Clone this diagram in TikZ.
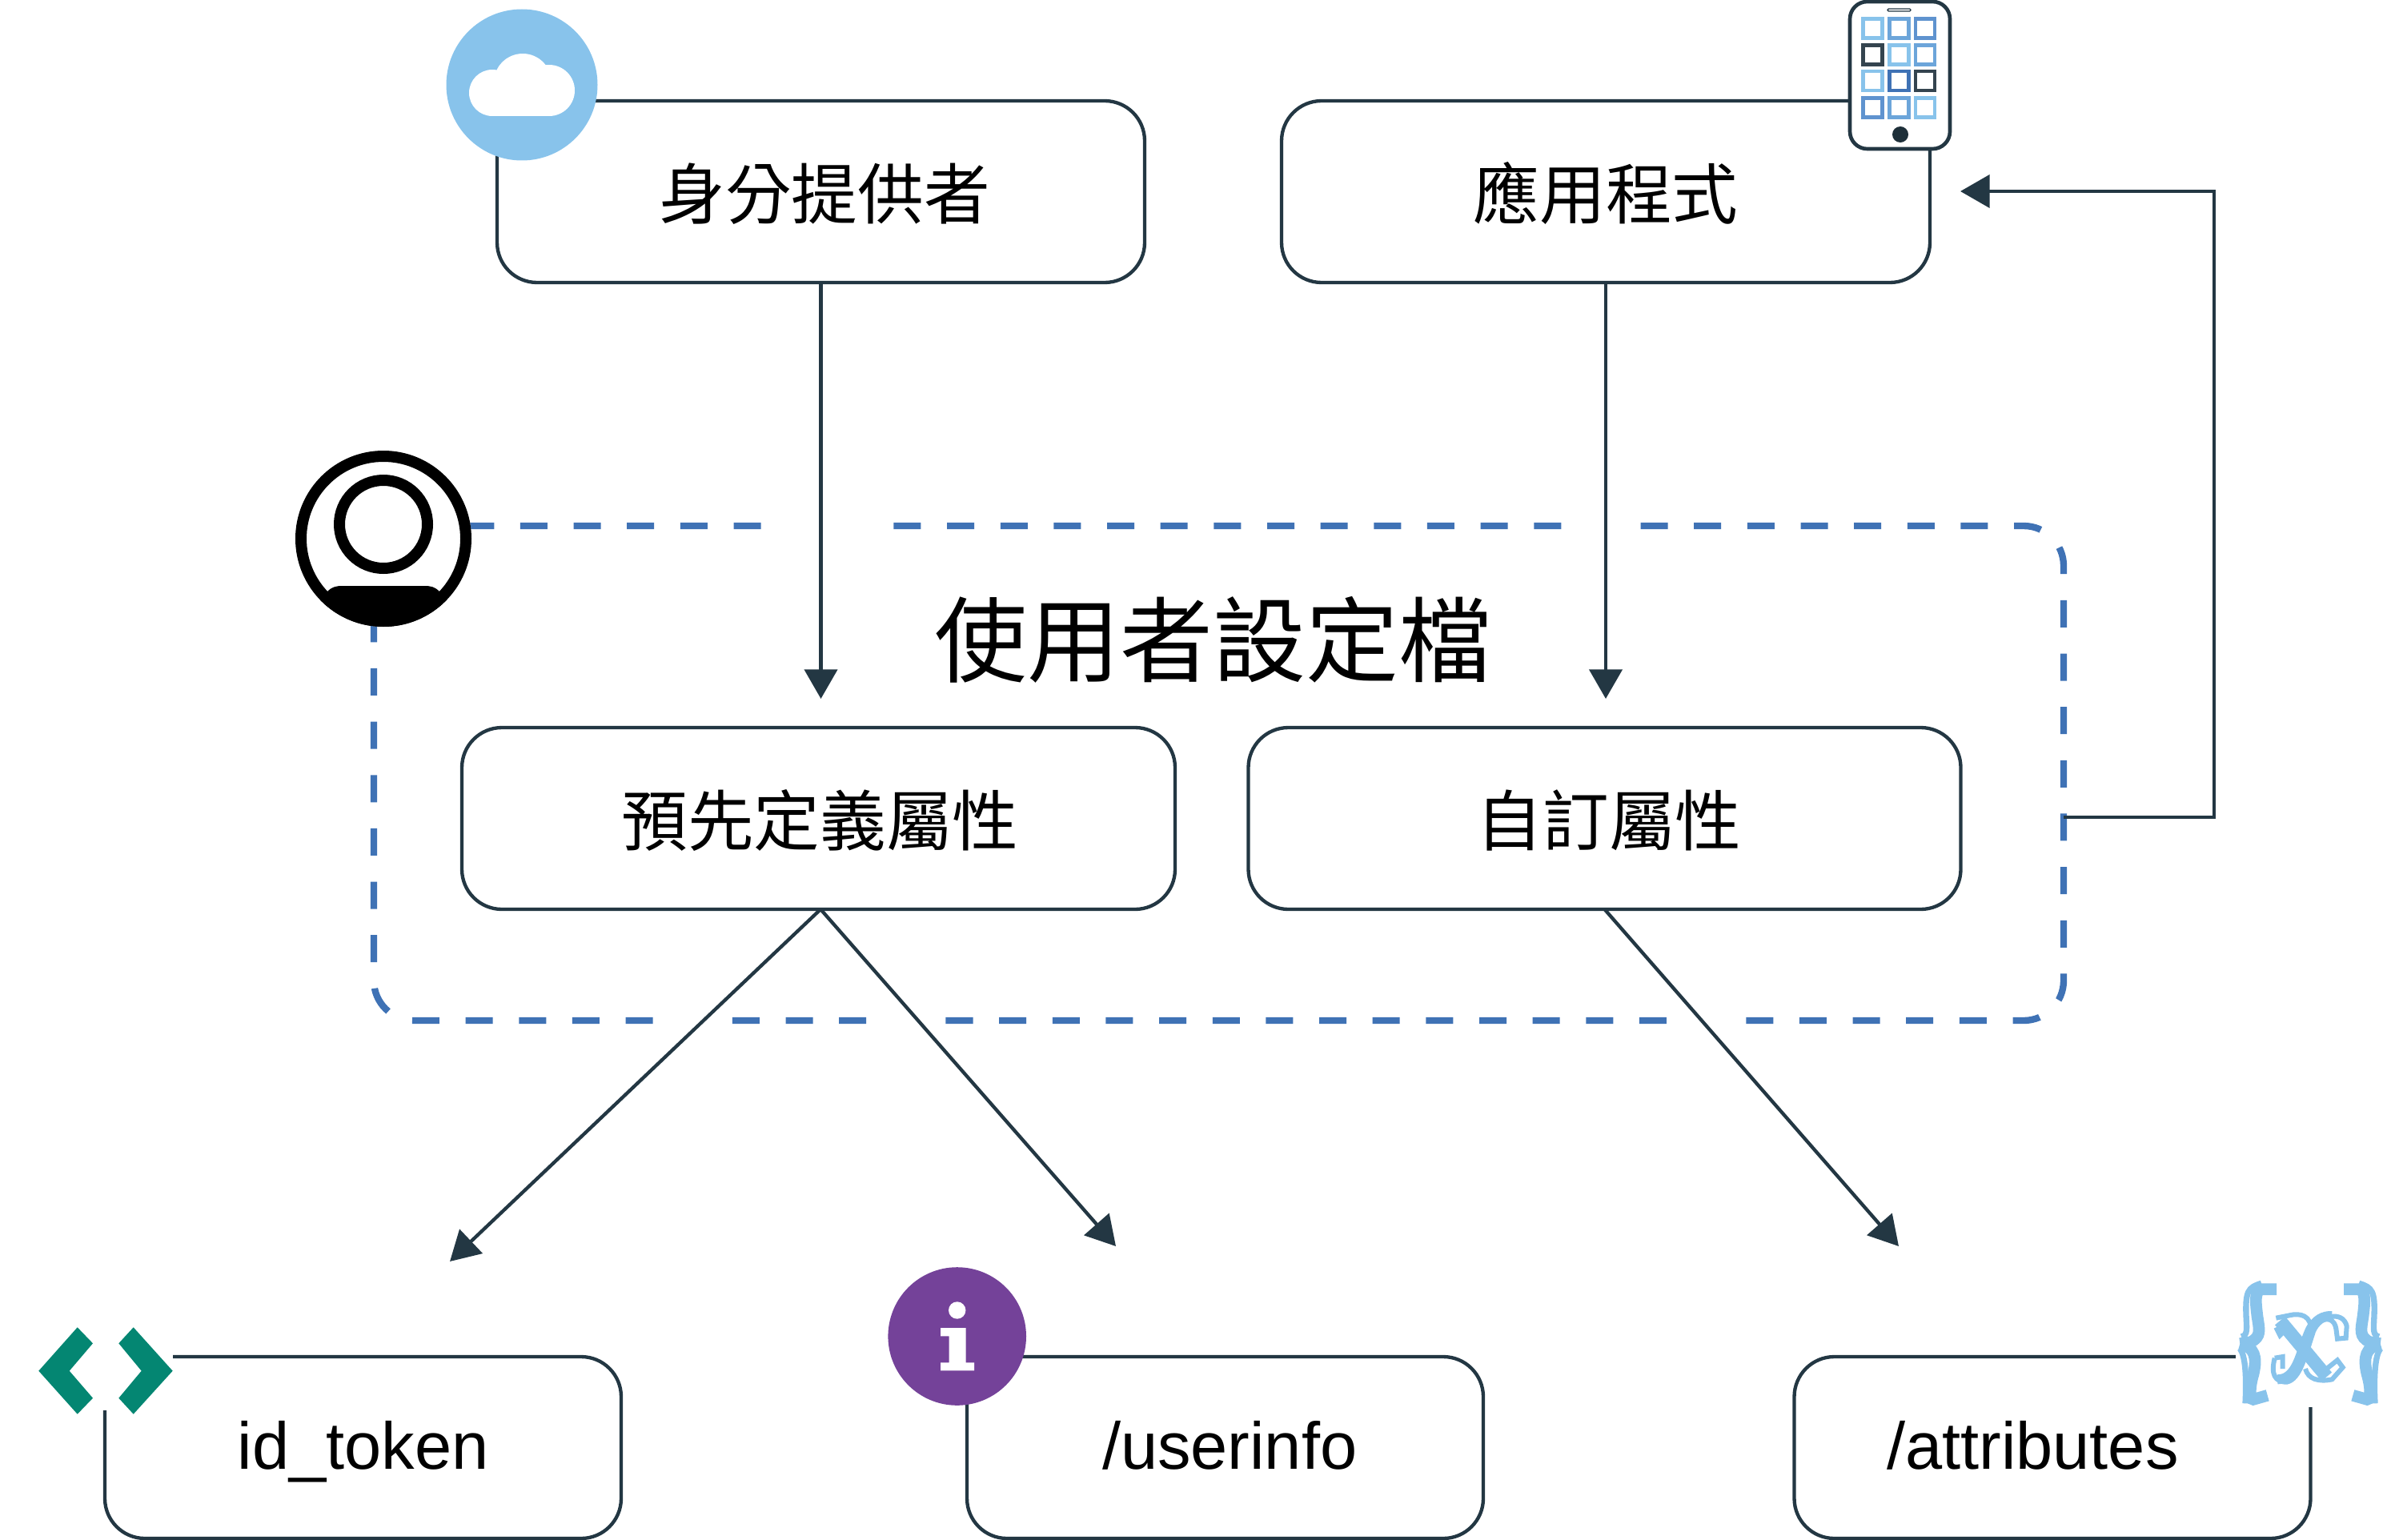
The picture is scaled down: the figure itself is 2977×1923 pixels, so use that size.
\documentclass[tikz,border=0pt]{standalone}
\usepackage{fontspec}
\setmainfont{Liberation Sans}
\newfontfamily\cjkf{Noto Sans CJK TC}
\usetikzlibrary{arrows.meta}
\definecolor{ink}{HTML}{233743}
\definecolor{dashblue}{HTML}{3F72B5}
\definecolor{sky}{HTML}{88C3EB}
\definecolor{midblue}{HTML}{6CA5DA}
\definecolor{deepblue}{HTML}{5F93CF}
\definecolor{slate}{HTML}{34444F}
\definecolor{teal}{HTML}{048672}
\definecolor{violet}{HTML}{744299}
\tikzset{
  box/.style={draw=ink,line width=1.3pt,rounded corners=15pt,inner sep=0pt,outer sep=0pt,minimum height=68.1pt,text=black},
  cjktext/.style={font=\cjkf\fontsize{24.8}{28}\selectfont,text height=24pt,text depth=3.4pt},
  lattext/.style={font=\fontsize{24.9}{28}\selectfont,text height=18pt,text depth=1.9pt},
  conn/.style={draw=ink,line width=1.3pt,-{Triangle[length=11pt,width=12.3pt,fill=ink]}},
  frameline/.style={draw=dashblue,line width=2.5pt,dash pattern=on 10.2pt off 9.795pt},
  rubout/.style={draw=white,line width=4pt},
  tile/.style={line width=1.4pt},
}
\newcommand{\tilesq}[3]{\draw[tile,draw=#3] (#1,#2) rectangle ++(24,24);}
\newcommand{\bracepath}{%
  \draw[draw=sky,line width=4.4pt] (222,92) -- (170,92) .. controls (135,92) and (145,150) .. (150,195) .. controls (158,245) and (165,270) .. (125,290) -- (85,296);
  \draw[draw=sky,line width=4.4pt] (85,296) .. controls (140,310) and (150,345) .. (135,410) .. controls (120,460) and (120,505) .. (135,505) -- (188,490);
  \draw[draw=sky,line width=2.2pt] (165,70) .. controls (115,85) and (105,100) .. (108,190) .. controls (110,240) and (115,265) .. (90,270);
  \draw[draw=sky,line width=2.2pt] (85,315) .. controls (105,340) and (110,420) .. (105,520);
}
\begin{document}
\begin{tikzpicture}[x=0.3pt,y=-0.3pt]
\useasboundingbox (0,0) rectangle (2977,1923);

% boxes
\node[box,cjktext,minimum width=242.7pt] (idp) at (1025.5,239.5) {\hspace*{2.8pt}身分提供者};
\node[box,cjktext,minimum width=243pt] (app) at (2006,239.5) {應用程式};
\node[box,cjktext,minimum width=267.3pt] (pre) at (1022.5,1022.5) {\hspace*{1.2pt}預先定義屬性};
\node[box,cjktext,minimum width=267pt] (cus) at (2004.5,1022.5) {\hspace*{3.4pt}自訂屬性};
\node[box,lattext,minimum width=193.5pt] (idt) at (453.5,1808.5) {id\_token};
\node[box,lattext,minimum width=193.5pt] (usr) at (1530.5,1808.5) {\hspace*{3.4pt}/userinfo};
\node[box,lattext,minimum width=193.5pt] (atr) at (2564,1808.5) {/attributes\hspace*{14.8pt}};

% profile frame
\draw[frameline,rounded corners=15pt] (516.6,657) -- (2578,657) -- (2578,1275) -- (467,1275) -- (467,657) -- (516.6,657);
\draw[rubout] (967,657) -- (1100,657);
\draw[rubout] (1967,657) -- (2034,657);
\draw[rubout] (830,1275) -- (897,1275);
\draw[rubout] (1097,1275) -- (1164,1275);
\draw[rubout] (2098,1275) -- (2163,1275);
\node[font=\cjkf\fontsize{34.8}{40}\selectfont,inner sep=0pt] (title) at (1515,799) {使用者設定檔};

% connector ends
\coordinate (t1) at (1025.5,873);
\coordinate (t2) at (2006,873);
\coordinate (t3) at (562,1576);
\coordinate (t4) at (1394,1557);
\coordinate (t5) at (2372,1557);
\coordinate (t6) at (2449,239);
\coordinate (fx) at (2578,1021);
\coordinate (c1) at (2766,1021);
\coordinate (c2) at (2766,239);
\coordinate (ps) at ([xshift=0.8pt]pre.south);

\draw[conn] (idp.south) -- (t1);
\draw[conn] (app.south) -- (t2);
\draw[conn] (ps) -- (t3);
\draw[conn] (ps) -- (t4);
\draw[conn] (cus.south) -- (t5);
\draw[conn] (fx) -- (c1) -- (c2) -- (t6);

% cloud icon
\fill[sky] (652,106) circle (94.5);
\fill[white] (615,116) circle (29);
\fill[white] (686,113) circle (32);
\fill[white] (653,103) circle (36);
\fill[white] (615,120) rectangle (686,145);

% phone icon
\draw[draw=ink,fill=white,line width=1.4pt,rounded corners=6.5pt] (2311,2) rectangle (2436,186);
\draw[draw=ink,line width=0.4pt,rounded corners=0.4pt] (2358,11) rectangle (2387,14);
\tilesq{2327.7}{23.7}{sky}\tilesq{2360.3}{23.7}{midblue}\tilesq{2393}{23.7}{deepblue}
\tilesq{2327.7}{56.3}{slate}\tilesq{2360.3}{56.3}{sky}\tilesq{2393}{56.3}{midblue}
\tilesq{2327.7}{89}{sky}\tilesq{2360.3}{89}{dashblue}\tilesq{2393}{89}{slate}
\tilesq{2327.7}{122.3}{deepblue}\tilesq{2360.3}{122.3}{midblue}\tilesq{2393}{122.3}{sky}
\fill[fill=ink!85!black] (2374,168) circle (10);

% person icon
\fill[white] (479,673) circle (110);
\begin{scope}
\clip (479,673) circle (110);
\fill[black] (409,739) .. controls (415,733) and (420,732) .. (428,732) -- (530,732) .. controls (538,732) and (543,733) .. (549,739) -- (610,800) -- (350,800) -- cycle;
\end{scope}
\draw[black,line width=4.2pt] (479,673) circle (103);
\draw[black,line width=4.2pt] (479,655) circle (55);

% code icon
\fill[white] (40,1650) rectangle (216,1762);
\fill[teal] (96.7,1658.3) -- (116,1678.3) -- (86.7,1712.7) -- (116,1746.7) -- (96.7,1766.7) -- (48.3,1712.7) -- cycle;
\fill[teal] (166.7,1658.3) -- (148.3,1678.3) -- (176.7,1712.7) -- (148.3,1746.7) -- (166.7,1766.7) -- (215.7,1712.7) -- cycle;

% info icon
\fill[violet] (1195.7,1669.5) circle (86.3);
\fill[white] (1195.7,1637) circle (10.7);
\fill[white] (1175,1659) -- (1206.7,1659) -- (1206.7,1702.3) -- (1217,1702.3) -- (1217,1712.3) -- (1175,1712.3) -- (1175,1702.3) -- (1185.7,1702.3) -- (1185.7,1669.3) -- (1175,1669.3) -- cycle;

% {x} icon
\fill[white] (2793,1590) rectangle (2977,1758);
\begin{scope}[shift={(2770,1580)},scale=1/3]
\bracepath
\begin{scope}[shift={(696,0)},xscale=-1]
\bracepath
\end{scope}
\draw[draw=sky,line width=5pt] (235,210) -- (410,420);
\draw[draw=sky,line width=3.6pt] (225,430) .. controls (300,430) and (310,330) .. (345,250) .. controls (365,205) and (400,190) .. (430,192);
\draw[draw=sky,line width=1.8pt] (215,350) .. controls (200,410) and (215,440) .. (260,440) .. controls (310,430) and (330,340) .. (360,250) .. controls (385,190) and (470,170) .. (485,230) -- (482,275) -- (450,278) -- (445,240) .. controls (440,205) and (410,195) .. (385,215);
\draw[draw=sky,line width=1.8pt] (215,350) -- (245,345) -- (245,390);
\draw[draw=sky,line width=1.8pt] (220,200) -- (270,190) .. controls (310,180) and (355,190) .. (350,250) -- (320,290);
\draw[draw=sky,line width=1.8pt] (220,235) -- (235,265) -- (260,240);
\draw[draw=sky,line width=1.8pt] (330,390) .. controls (340,430) and (380,440) .. (430,430) -- (470,385) -- (450,358) -- (410,390);
\end{scope}
\end{tikzpicture}
\end{document}
